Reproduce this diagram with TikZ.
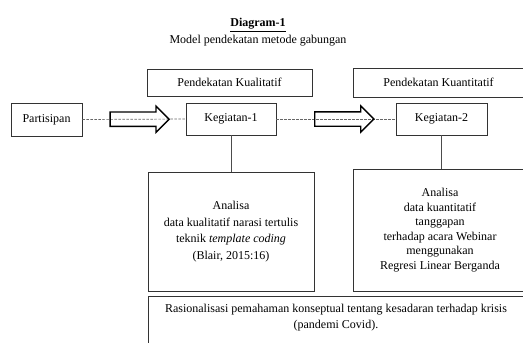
\documentclass[tikz,border=0pt]{standalone}
\usepackage{fontspec}
\setmainfont{Liberation Serif}
\usetikzlibrary{shapes.arrows,calc}

\begin{document}
\begin{tikzpicture}[x=1pt,y=-1pt,
  font=\fontsize{12}{15}\selectfont,
  kotak/.style={draw=black!80, line width=0.7pt, inner sep=0pt},
  putus/.style={draw=black!60, line width=0.7pt, dash pattern=on 2.5pt off 1.5pt},
  panah/.style={single arrow, draw=black, line width=1.3pt, minimum height=59pt,
    minimum width=25pt, inner sep=6.5pt, single arrow head extend=6pt}]
\useasboundingbox (0,0) rectangle (523,343);
\clip (0,0) rectangle (523,343);
\node (judul) at (258,25) {\underline{\textbf{Diagram-1}}};
\node (subjudul) at (258,41) {Model pendekatan metode gabungan};
\node[kotak, minimum width=165pt, minimum height=27pt] (kual) at (229.5,82.5) {Pendekatan Kualitatif};
\node[kotak, minimum width=171pt, minimum height=29pt] (kuan) at (438.5,82.5) {Pendekatan Kuantitatif};
\node[kotak, minimum width=71pt, minimum height=33pt] (partisipan) at (46.5,119.5) {Partisipan};
\node[kotak, minimum width=90pt, minimum height=32pt] (kegiatan1) at (231,119) {Kegiatan-1};
\node[kotak, minimum width=91pt, minimum height=32pt] (kegiatan2) at (441.5,119) {Kegiatan-2};
\draw[putus] (partisipan.east) -- (kegiatan1.west);
\draw[putus] (kegiatan1.east) -- (kegiatan2.west);
\node[panah] (panah1) at ($(partisipan.east)!0.52!(kegiatan1.west)$) {};
\node[panah] (panah2) at ($(kegiatan1.east)!0.54!(kegiatan2.west)$) {};
\node[kotak, minimum width=166pt, minimum height=119pt, align=center,
  font=\fontsize{12}{16.5}\selectfont] (analisa1) at (231,231.5)
  {Analisa\\ data kualitatif narasi tertulis\\ teknik \textit{template coding}\\ (Blair, 2015:16)};
\node[kotak, minimum width=174pt, minimum height=122pt, align=center,
  font=\fontsize{12}{14.5}\selectfont] (analisa2) at (440,230)
  {Analisa\\ data kuantitatif\\ tanggapan\\ terhadap acara Webinar\\ menggunakan\\ Regresi Linear Berganda};
\draw[draw=black!70, line width=0.7pt] (kegiatan1.south) -- (analisa1.north);
\draw[draw=black!70, line width=0.7pt] (kegiatan2.south) -- (kegiatan2.south |- analisa2.north);
\node[kotak, minimum width=376pt, minimum height=56pt] (rasionalbox) at (336,324) {};
\node[align=center, anchor=north, inner sep=0pt, font=\fontsize{12}{16}\selectfont] (rasional)
  at ($(rasionalbox.north)+(0,8)$)
  {Rasionalisasi pemahaman konseptual tentang kesadaran terhadap krisis\\ (pandemi Covid).};
\end{tikzpicture}
\end{document}
